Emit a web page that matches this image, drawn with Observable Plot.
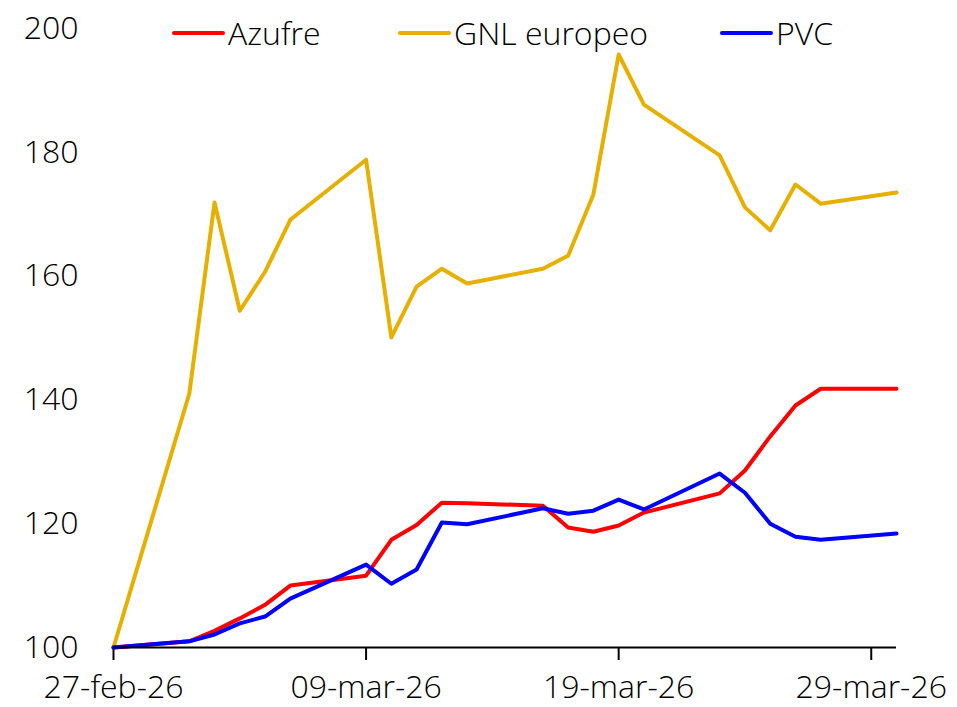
<!DOCTYPE html>
<html>
<head>
<meta charset="utf-8">
<script src="https://cdn.jsdelivr.net/npm/d3@7"></script>
<script src="https://cdn.jsdelivr.net/npm/@observablehq/plot@0.6"></script>
<style>
  html, body { margin: 0; padding: 0; background: #fff; }
  #wrap { position: relative; width: 957px; height: 707px; }
  #legend { position: absolute; left: 0; top: 0; width: 957px; height: 60px; font-family: "Open Sans", sans-serif; font-weight: 300; font-size: 32px; color: #000; }
  .item { position: absolute; top: 12px; display: flex; align-items: center; white-space: nowrap; line-height: 42px; }
  .sw { display: inline-block; width: 53px; height: 4px; margin-right: 3px; border-radius: 2px; }
</style>
</head>
<body>
<div id="wrap">
  <div id="chart"></div>
  <div id="legend"></div>
</div>
<script>
// ---- data ----
const dates = ["2026-02-27","2026-03-02","2026-03-03","2026-03-04","2026-03-05","2026-03-06",
               "2026-03-09","2026-03-10","2026-03-11","2026-03-12","2026-03-13",
               "2026-03-16","2026-03-17","2026-03-18","2026-03-19","2026-03-20",
               "2026-03-23","2026-03-24","2026-03-25","2026-03-26","2026-03-27","2026-03-30"];
const azufre = [100, 101.0, 102.7, 104.7, 106.9, 110.0,
                111.6, 117.4, 119.8, 123.4, 123.3,
                122.9, 119.4, 118.7, 119.7, 121.8,
                124.9, 128.6, 134.1, 139.1, 141.8, 141.8];
const gnl = [100, 141.0, 171.9, 154.4, 160.7, 169.1,
             178.8, 150.1, 158.3, 161.2, 158.8,
             161.2, 163.3, 173.2, 195.8, 187.7,
             179.5, 171.1, 167.4, 174.8, 171.7, 173.5];
const pvc = [100, 101.0, 102.1, 103.9, 105.0, 107.9,
             113.4, 110.3, 112.6, 120.2, 119.9,
             122.5, 121.6, 122.1, 123.9, 122.3,
             128.1, 125.0, 120.0, 117.9, 117.4, 118.4];
const seriesNames = ["Azufre", "GNL europeo", "PVC"];
const seriesColors = ["#ff0000", "#e6b000", "#0000ff"];
const yTicks = [100, 120, 140, 160, 180, 200];
const xTickDates = ["2026-02-27", "2026-03-09", "2026-03-19", "2026-03-29"];
const monthsEs = ["ene","feb","mar","abr","may","jun","jul","ago","sep","oct","nov","dic"];

// ---- build ----
const parse = s => new Date(s + "T00:00:00Z");
const mk = vals => dates.map((d, i) => ({date: parse(d), value: vals[i]}));
const dataAz = mk(azufre), dataGnl = mk(gnl), dataPvc = mk(pvc);
const fmt = d => String(d.getUTCDate()).padStart(2, "0") + "-" + monthsEs[d.getUTCMonth()] + "-" + String(d.getUTCFullYear()).slice(2);

const chart = Plot.plot({
  width: 957,
  height: 707,
  marginLeft: 113,
  marginRight: 61,
  marginTop: 28,
  marginBottom: 60,
  style: {fontFamily: "'Open Sans', sans-serif", fontWeight: 300, fontSize: "32px", color: "#000", background: "#fff", overflow: "visible"},
  x: {type: "utc", domain: [parse(dates[0]), parse(dates[dates.length - 1])]},
  y: {domain: [100, 200]},
  marks: [
    Plot.axisY({ticks: yTicks, tickSize: 0, tickPadding: 35, label: null, fontSize: 32}),
    Plot.axisX({ticks: xTickDates.map(parse), tickFormat: fmt, tickSize: 13, tickPadding: 15, label: null, fontSize: 32, strokeWidth: 2}),
    Plot.line(dataGnl, {x: "date", y: "value", stroke: seriesColors[1], strokeWidth: 4}),
    Plot.line(dataAz, {x: "date", y: "value", stroke: seriesColors[0], strokeWidth: 4}),
    Plot.line(dataPvc, {x: "date", y: "value", stroke: seriesColors[2], strokeWidth: 4}),
    Plot.ruleY([100], {stroke: "#000", strokeWidth: 2})
  ]
});
document.getElementById("chart").appendChild(chart);

// legend
const legendX = [172, 398, 720];
const legend = document.getElementById("legend");
seriesNames.forEach((name, i) => {
  const item = document.createElement("div");
  item.className = "item";
  item.style.left = legendX[i] + "px";
  const sw = document.createElement("span");
  sw.className = "sw";
  sw.style.background = seriesColors[i];
  const t = document.createElement("span");
  t.textContent = name;
  item.appendChild(sw);
  item.appendChild(t);
  legend.appendChild(item);
});
</script>
</body>
</html>
